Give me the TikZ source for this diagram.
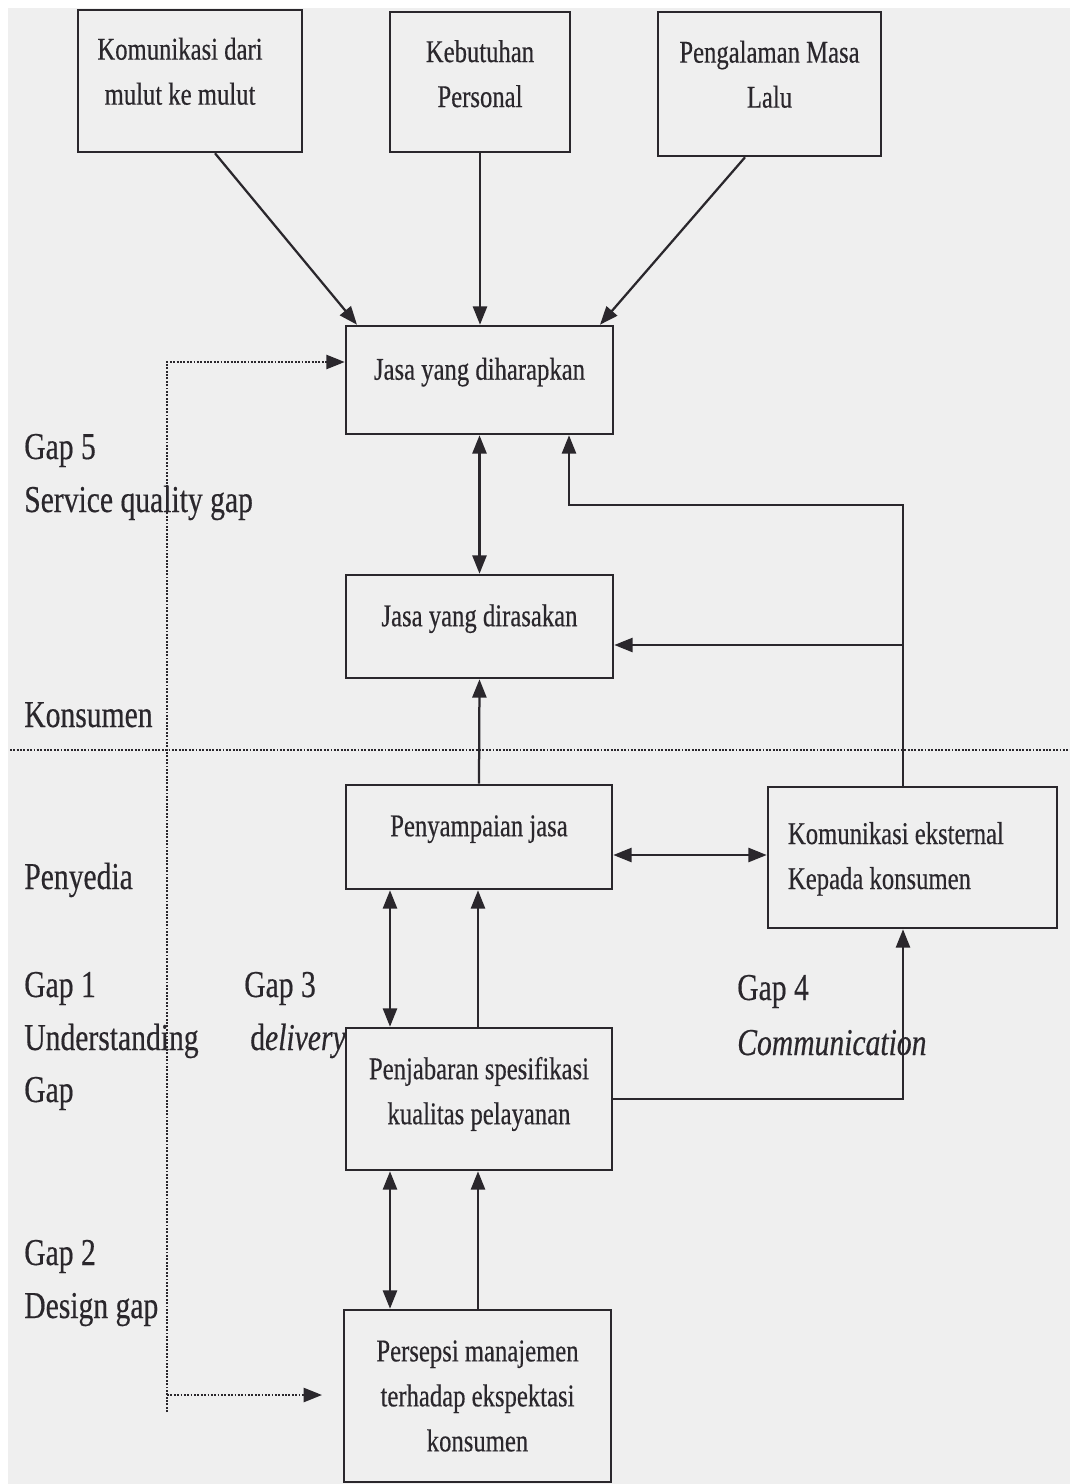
\documentclass[tikz,border=0pt]{standalone}
\usepackage{fontspec}
\setmainfont{Liberation Serif}[FakeStretch=0.78,FakeBold=0.4]
\usetikzlibrary{arrows.meta}
\definecolor{ink}{HTML}{2A272C}
\definecolor{paper}{HTML}{EFEFEF}
\tikzset{
  x=0.025cm, y=-0.025cm,
  box/.style={draw=ink, line width=1.8pt, rectangle, inner xsep=0pt, inner ysep=0pt,
    align=center, text=ink, font=\fontsize{22.5}{32}\selectfont},
  onel/.style={text depth=16pt},
  lab/.style={anchor=base west, inner sep=0pt, text=ink, font=\fontsize{27}{37}\selectfont},
  conn/.style={draw=ink, line width=1.6pt},
  arr/.style={conn, -{Triangle[length=13pt,width=10pt]}},
  darr/.style={conn, {Triangle[length=13pt,width=10pt]}-{Triangle[length=13pt,width=10pt]}},
  dotl/.style={draw=ink, line width=1.5pt, dash pattern=on 1.3pt off 1.1pt},
  dotarr/.style={dotl, -{Triangle[length=13pt,width=10pt]}},
}
\begin{document}
\begin{tikzpicture}
\fill[white] (0,0) rectangle (1070,1484);
\fill[paper] (8,8) rectangle (1070,1484);
\useasboundingbox (0,0) rectangle (1070,1484);

% boxes
\node[box, minimum width=5.6cm, minimum height=3.55cm, text depth=14pt] (top1) at (190,81) {Komunikasi dari\hspace*{0.5cm}\\mulut ke mulut\hspace*{0.5cm}};
\node[box, minimum width=4.5cm, minimum height=3.5cm, text depth=12pt] (top2) at (480,82) {Kebutuhan\\Personal};
\node[box, minimum width=5.575cm, minimum height=3.6cm, text depth=14pt] (top3) at (769.5,84) {Pengalaman Masa\\Lalu};
\node[box, onel, minimum width=6.675cm, minimum height=2.7cm] (harap) at (479.5,380) {Jasa yang diharapkan};
\node[box, onel, minimum width=6.675cm, minimum height=2.575cm] (rasa) at (479.5,626.5) {Jasa yang dirasakan};
\node[box, onel, minimum width=6.65cm, minimum height=2.6cm] (sampai) at (479,837) {Penyampaian jasa};
\node[box, inner xsep=0.5cm, minimum height=3.525cm] (kom) at (912.5,857.5)
  {\makebox[6.225cm][l]{\begin{tabular}{@{}l@{}}Komunikasi eksternal\\Kepada konsumen\end{tabular}}};
\node[box, minimum width=6.65cm, minimum height=3.55cm, text depth=12pt] (jabar) at (479,1099) {Penjabaran spesifikasi\\kualitas pelayanan};
\node[box, minimum width=6.675cm, minimum height=4.3cm] (persepsi) at (477.5,1396) {Persepsi manajemen\\terhadap ekspektasi\\konsumen};

% helper coordinates
\coordinate (t1a) at (215,0);
\coordinate (t1b) at (357,0);
\coordinate (t3a) at (745,0);
\coordinate (t3b) at (600,0);
\coordinate (k1) at (903,0);
\coordinate (k2) at (569,505);
\coordinate (r1) at (0,645);
\coordinate (s1) at (0,855);
\coordinate (L) at (390,0);
\coordinate (R) at (478,0);

% connectors
\draw[arr] (top1.south -| t1a) -- (harap.north -| t1b);
\draw[arr] (top2.south) -- (harap.north -| top2.south);
\draw[arr] (top3.south -| t3a) -- (harap.north -| t3b);
\draw[darr] (harap.south) -- (rasa.north);
\draw[arr] (kom.north -| k1) |- (k2) -- (harap.south -| k2);
\draw[arr] (k1 |- r1) -- (rasa.east |- r1);
\draw[arr] (sampai.north) -- (rasa.south);
\draw[darr] (sampai.east |- s1) -- (kom.west |- s1);
\draw[darr] (sampai.south -| L) -- (jabar.north -| L);
\draw[arr] (jabar.north -| R) -- (sampai.south -| R);
\draw[arr] (jabar.east) -| (kom.south -| k1);
\draw[darr] (jabar.south -| L) -- (persepsi.north -| L);
\draw[arr] (persepsi.north -| R) -- (jabar.south -| R);

% dotted lines
\coordinate (d1) at (167,362);
\coordinate (d2) at (167,1412);
\coordinate (d3) at (167,1395);
\coordinate (d4) at (322,1395);
\coordinate (h1) at (10,750);
\coordinate (h2) at (1070,750);
\draw[dotarr] (d2) -- (d1) -- (harap.west |- d1);
\draw[dotarr] (d3) -- (d4);
\draw[dotl] (h1) -- (h2);

% labels
\node[lab] (g5) at (24,459) {Gap 5};
\node[lab] (g5b) at (24,512) {Service quality gap};
\node[lab] (kons) at (24,727) {Konsumen};
\node[lab] (peny) at (24,889) {Penyedia};
\node[lab] (g1) at (24,997) {Gap 1};
\node[lab] (g1b) at (24,1050) {Understanding};
\node[lab] (g1c) at (24,1102) {Gap};
\node[lab] (g3) at (244,997) {Gap 3};
\node[lab] (g3b) at (250,1050) {d\textit{elivery}};
\node[lab] (g4) at (737,1000) {Gap 4};
\node[lab] (g4b) at (737,1055) {\textit{Communication}};
\node[lab] (g2) at (24,1265) {Gap 2};
\node[lab] (g2b) at (24,1318) {Design gap};
\end{tikzpicture}
\end{document}
